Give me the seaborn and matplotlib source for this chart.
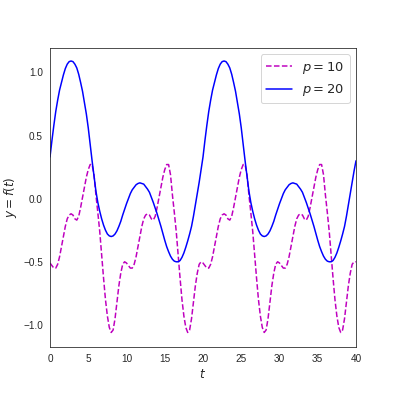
import numpy as np
import pandas as pd
import matplotlib
matplotlib.use("Agg")
import matplotlib.pyplot as plt
import seaborn as sns

# sample times
t_p10 = np.arange(0, 40.01, 0.25)
t_p20 = np.arange(0, 40.01, 0.25)

# p = 10 curve (period 10)
y_p10 = [
    -0.51, -0.53, -0.55, -0.55, -0.52, -0.46, -0.38, -0.30, -0.22, -0.16,
    -0.13, -0.12, -0.13, -0.16, -0.17, -0.14, -0.07, 0.01, 0.09, 0.17,
    0.23, 0.27, 0.27, 0.19, 0.03, -0.11, -0.26, -0.45, -0.63, -0.80,
    -0.93, -1.02, -1.06, -1.04, -0.95, -0.82, -0.69, -0.59, -0.52, -0.50,
    -0.51, -0.53, -0.55, -0.55, -0.52, -0.46, -0.38, -0.30, -0.22, -0.16,
    -0.13, -0.12, -0.13, -0.16, -0.17, -0.14, -0.07, 0.01, 0.09, 0.17,
    0.23, 0.27, 0.27, 0.19, 0.03, -0.11, -0.26, -0.45, -0.63, -0.80,
    -0.93, -1.02, -1.06, -1.04, -0.95, -0.82, -0.69, -0.59, -0.52, -0.50,
    -0.51, -0.53, -0.55, -0.55, -0.52, -0.46, -0.38, -0.30, -0.22, -0.16,
    -0.13, -0.12, -0.13, -0.16, -0.17, -0.14, -0.07, 0.01, 0.09, 0.17,
    0.23, 0.27, 0.27, 0.19, 0.03, -0.11, -0.26, -0.45, -0.63, -0.80,
    -0.93, -1.02, -1.06, -1.04, -0.95, -0.82, -0.69, -0.59, -0.52, -0.50,
    -0.51, -0.53, -0.55, -0.55, -0.52, -0.46, -0.38, -0.30, -0.22, -0.16,
    -0.13, -0.12, -0.13, -0.16, -0.17, -0.14, -0.07, 0.01, 0.09, 0.17,
    0.23, 0.27, 0.27, 0.19, 0.03, -0.11, -0.26, -0.45, -0.63, -0.80,
    -0.93, -1.02, -1.06, -1.04, -0.95, -0.82, -0.69, -0.59, -0.52, -0.50,
    -0.50,
]

# p = 20 curve (period 20)
y_p20 = [
    0.33, 0.46, 0.58, 0.69, 0.78, 0.86, 0.92, 0.98, 1.03, 1.065,
    1.085, 1.09, 1.085, 1.065, 1.035, 0.985, 0.92, 0.85, 0.76, 0.67,
    0.56, 0.43, 0.30, 0.18, 0.06, -0.03, -0.10, -0.16, -0.21, -0.25,
    -0.28, -0.295, -0.30, -0.295, -0.28, -0.255, -0.22, -0.18, -0.13, -0.085,
    -0.04, 0.00, 0.04, 0.07, 0.09, 0.11, 0.12, 0.125, 0.12, 0.115,
    0.095, 0.075, 0.05, 0.01, -0.03, -0.075, -0.12, -0.17, -0.22, -0.275,
    -0.33, -0.38, -0.42, -0.455, -0.48, -0.495, -0.50, -0.50, -0.49, -0.465,
    -0.43, -0.385, -0.335, -0.28, -0.22, -0.14, -0.05, 0.04, 0.13, 0.23,
    0.33, 0.46, 0.58, 0.69, 0.78, 0.86, 0.92, 0.98, 1.03, 1.065,
    1.085, 1.09, 1.085, 1.065, 1.035, 0.985, 0.92, 0.85, 0.76, 0.67,
    0.56, 0.43, 0.30, 0.18, 0.06, -0.03, -0.10, -0.16, -0.21, -0.25,
    -0.28, -0.295, -0.30, -0.295, -0.28, -0.255, -0.22, -0.18, -0.13, -0.085,
    -0.04, 0.00, 0.04, 0.07, 0.09, 0.11, 0.12, 0.125, 0.12, 0.115,
    0.095, 0.075, 0.05, 0.01, -0.03, -0.075, -0.12, -0.17, -0.22, -0.275,
    -0.33, -0.38, -0.42, -0.455, -0.48, -0.495, -0.50, -0.50, -0.49, -0.465,
    -0.43, -0.385, -0.335, -0.28, -0.22, -0.14, -0.05, 0.04, 0.13, 0.22,
    0.30,
]

df10 = pd.DataFrame({"t": t_p10, "y": y_p10})
df20 = pd.DataFrame({"t": t_p20, "y": y_p20})

sns.set_style("white")
plt.rcParams["font.family"] = ["Liberation Sans", "DejaVu Sans"]

fig = plt.figure(figsize=(5.5, 5.5), dpi=72)
ax = fig.add_axes([0.1263, 0.1237, 0.7727, 0.7551])

sns.lineplot(data=df10, x="t", y="y", ax=ax, color="m", linestyle="--",
             linewidth=1.5, label=r"$p = 10$")
sns.lineplot(data=df20, x="t", y="y", ax=ax, color="b",
             linewidth=1.5, label=r"$p = 20$")

ax.set_xlim(0, 40)
ax.set_ylim(-1.175, 1.193)
ax.set_xticks([0, 5, 10, 15, 20, 25, 30, 35, 40])
ax.set_yticks([-1.0, -0.5, 0.0, 0.5, 1.0])
ax.tick_params(labelsize=10)
ax.set_xlabel(r"$t$", fontsize=12)
ax.set_ylabel(r"$y = f(t)$", fontsize=12)
ax.legend(loc="upper right", fontsize=13)

fig.savefig("out.png", dpi=72)
